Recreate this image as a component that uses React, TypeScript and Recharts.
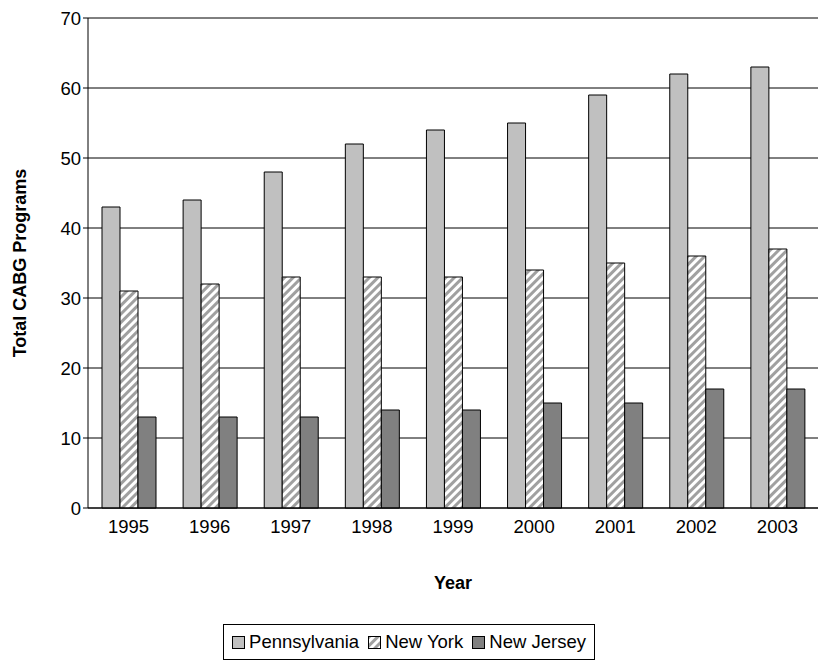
import React from 'react';
import { BarChart, Bar, XAxis, YAxis, CartesianGrid, Legend } from 'recharts';

const years = ['1995','1996','1997','1998','1999','2000','2001','2002','2003'];
const pennsylvania = [43,44,48,52,54,55,59,62,63];
const newYork = [31,32,33,33,33,34,35,36,37];
const newJersey = [13,13,13,14,14,15,15,17,17];
const yTicks = [0,10,20,30,40,50,60,70];

const data = years.map((y, i) => ({ year: y, pa: pennsylvania[i], ny: newYork[i], nj: newJersey[i] }));
const font = '"Liberation Sans", Arial, sans-serif';

const Swatch = ({ fill }: { fill: string }) => (
  <svg width={13} height={13} style={{ marginRight: 4 }}>
    <rect x={0.5} y={0.5} width={12} height={12} fill={fill} stroke="#000" />
  </svg>
);

const LegendContent = () => (
  <div style={{ display: 'flex', justifyContent: 'center', paddingTop: 26 }}>
    <div style={{ border: '1px solid #000', padding: '6px 8px', display: 'flex', gap: 9, fontFamily: font, fontSize: 18.5, alignItems: 'center' }}>
      <span style={{ display: 'flex', alignItems: 'center' }}><Swatch fill="#c0c0c0" />Pennsylvania</span>
      <span style={{ display: 'flex', alignItems: 'center' }}><Swatch fill="url(#stripes)" />New York</span>
      <span style={{ display: 'flex', alignItems: 'center' }}><Swatch fill="#808080" />New Jersey</span>
    </div>
  </div>
);

export default function App() {
  return (
    <div style={{ position: 'absolute', left: 0, top: 0, background: '#fff' }}>
      <svg width={0} height={0} style={{ position: 'absolute' }}>
        <defs>
          <pattern id="stripes" patternUnits="userSpaceOnUse" width={6} height={6} patternTransform="rotate(45)">
            <rect width={6} height={6} fill="#fff" />
            <rect width={3} height={6} fill="#a0a0a0" />
          </pattern>
        </defs>
      </svg>
      <BarChart width={820} height={662} data={data} margin={{ top: 18, right: 2, left: 0, bottom: 0 }} barGap={0} barCategoryGap={14}>
        <CartesianGrid vertical={false} stroke="#000" />
        <XAxis dataKey="year" height={90} tickLine={false} stroke="#000" tick={{ fill: '#000', fontSize: 18.5, fontFamily: font }} tickMargin={6}
          label={{ value: 'Year', position: 'insideTop', offset: 68, fill: '#000', fontSize: 18, fontWeight: 'bold', fontFamily: font }} />
        <YAxis width={88} domain={[0, 70]} ticks={yTicks} stroke="#000" tickSize={5} tick={{ fill: '#000', fontSize: 18.5, fontFamily: font }}
          label={{ value: 'Total CABG Programs', angle: -90, position: 'insideLeft', offset: 20, style: { textAnchor: 'middle' }, fill: '#000', fontSize: 18, fontWeight: 'bold', fontFamily: font }} />
        <Legend verticalAlign="bottom" wrapperStyle={{ height: 64 }} content={<LegendContent />} />
        <Bar dataKey="pa" fill="#c0c0c0" stroke="#000" strokeWidth={1} isAnimationActive={false} />
        <Bar dataKey="ny" fill="url(#stripes)" stroke="#000" strokeWidth={1} isAnimationActive={false} />
        <Bar dataKey="nj" fill="#808080" stroke="#000" strokeWidth={1} isAnimationActive={false} />
      </BarChart>
    </div>
  );
}
